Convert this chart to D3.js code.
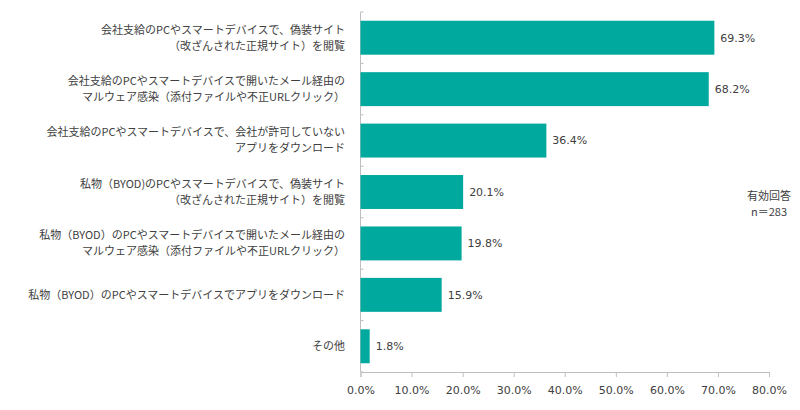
<!DOCTYPE html>
<html lang="ja">
<head>
    <meta charset="UTF-8">
    <title>不正アクセス経路</title>
    <script src="https://d3js.org/d3.v7.min.js"></script>
    <style>
        body { margin: 0; background: #fff; }
        .cat { font-family: "Noto Sans CJK JP", sans-serif; font-size: 11px; fill: #404040; }
        .val, .tick text { font-family: "DejaVu Sans", Verdana, sans-serif; font-size: 11px; fill: #404040; }
    </style>
</head>
<body>
    <div id="chart"></div>

    <script>
        // Categories (each as lines of text)
        const categories = [
            ["会社支給のPCやスマートデバイスで、偽装サイト", "（改ざんされた正規サイト）を閲覧"],
            ["会社支給のPCやスマートデバイスで開いたメール経由の", "マルウェア感染（添付ファイルや不正URLクリック）"],
            ["会社支給のPCやスマートデバイスで、会社が許可していない", "アプリをダウンロード"],
            ["私物（BYOD)のPCやスマートデバイスで、偽装サイト", "（改ざんされた正規サイト）を閲覧"],
            ["私物（BYOD）のPCやスマートデバイスで開いたメール経由の", "マルウェア感染（添付ファイルや不正URLクリック）"],
            ["私物（BYOD）のPCやスマートデバイスでアプリをダウンロード"],
            ["その他"]
        ];

        const values = [69.3, 68.2, 36.4, 20.1, 19.8, 15.9, 1.8];

        const xTicks = [0, 10, 20, 30, 40, 50, 60, 70, 80];

        const noteLines = ["有効回答", "n＝283"];

        const width = 800, height = 410;
        const plot = {left: 360.5, right: 769, top: 12, bottom: 372};

        const svg = d3.select("#chart")
            .append("svg")
            .attr("width", width)
            .attr("height", height);

        const x = d3.scaleLinear()
            .domain([0, 80])
            .range([plot.left, plot.right]);

        const y = d3.scaleBand()
            .domain(d3.range(categories.length))
            .range([plot.top, plot.bottom])
            .paddingInner(0.34)
            .paddingOuter(0.17);

        // x axis
        const xAxis = svg.append("g")
            .attr("transform", `translate(0,${plot.bottom})`)
            .call(d3.axisBottom(x).tickValues(xTicks).tickSize(5).tickPadding(9)
                .tickFormat(d => d.toFixed(1) + "%"));
        xAxis.select(".domain").attr("stroke", "#bfbfbf");
        xAxis.selectAll(".tick line").attr("stroke", "#bfbfbf");

        // y axis line and boundary ticks
        svg.append("line")
            .attr("x1", plot.left).attr("x2", plot.left)
            .attr("y1", plot.top).attr("y2", plot.bottom)
            .attr("stroke", "#bfbfbf");

        svg.selectAll(".ytick")
            .data(d3.range(categories.length + 1))
            .enter().append("line")
            .attr("class", "ytick")
            .attr("x1", plot.left).attr("x2", plot.left + 3)
            .attr("y1", i => plot.top + i * y.step())
            .attr("y2", i => plot.top + i * y.step())
            .attr("stroke", "#bfbfbf");

        // bars
        svg.selectAll(".bar")
            .data(values)
            .enter().append("rect")
            .attr("class", "bar")
            .attr("x", x(0))
            .attr("y", (d, i) => y(i))
            .attr("width", d => x(d) - x(0))
            .attr("height", y.bandwidth())
            .attr("fill", "#00a99d");

        // value labels
        svg.selectAll(".val")
            .data(values)
            .enter().append("text")
            .attr("class", "val")
            .attr("x", d => x(d) + 6)
            .attr("y", (d, i) => y(i) + y.bandwidth() / 2)
            .attr("dy", "0.35em")
            .text(d => d.toFixed(1) + "%");

        // category labels
        const lineH = 16;
        svg.selectAll(".cat")
            .data(categories)
            .enter().append("text")
            .attr("class", "cat")
            .attr("text-anchor", "end")
            .each(function(lines, i) {
                const cy = y(i) + y.bandwidth() / 2;
                d3.select(this).selectAll("tspan")
                    .data(lines)
                    .enter().append("tspan")
                    .attr("x", 345)
                    .attr("y", (l, j) => cy + (j - (lines.length - 1) / 2) * lineH)
                    .attr("dy", "0.35em")
                    .text(l => l);
            });

        // note
        svg.selectAll(".note")
            .data(noteLines)
            .enter().append("text")
            .attr("class", "cat")
            .attr("text-anchor", "middle")
            .attr("x", 769)
            .attr("y", (d, i) => 196 + i * 16)
            .attr("dy", "0.35em")
            .text(d => d);
    </script>
</body>
</html>
